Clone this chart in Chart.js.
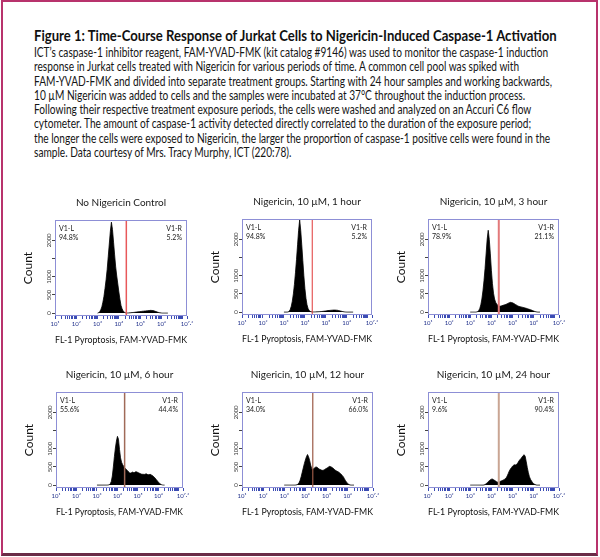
<!DOCTYPE html>
<html>
<head>
<meta charset="utf-8">
<title>Figure 1: Caspase-1 time course</title>
<script src="https://cdn.jsdelivr.net/npm/chart.js"></script>
<style>
  html, body { margin: 0; padding: 0; background: #fff; }
  body { width: 600px; height: 557px; position: relative; overflow: hidden;
         font-family: Lato, "Open Sans", sans-serif; }
  #frame { position: absolute; left: 1px; top: 0px; width: 593px; height: 551px;
           border: 2px solid #b8336c; border-bottom: 3px solid #6b2c47; }
  #title { position: absolute; left: 34px; top: 26px; font-size: 15.5px; font-weight: bold;
           color: #111; white-space: nowrap; line-height: 18px; transform-origin: 0 0; }
  #para { position: absolute; left: 34px; top: 46px; font-size: 12.5px; line-height: 14.3px;
          color: #151515; white-space: nowrap; transform-origin: 0 0; }
  canvas { position: absolute; }
</style>
</head>
<body>
<div id="frame"></div>
<div id="title">Figure 1: Time-Course Response of Jurkat Cells to Nigericin-Induced Caspase-1 Activation</div>
<div id="para">ICT’s caspase-1 inhibitor reagent, FAM-YVAD-FMK (kit catalog #9146) was used to monitor the caspase-1 induction<br>
response in Jurkat cells treated with Nigericin for various periods of time. A common cell pool was spiked with<br>
FAM-YVAD-FMK and divided into separate treatment groups. Starting with 24 hour samples and working backwards,<br>
10 µM Nigericin was added to cells and the samples were incubated at 37°C throughout the induction process.<br>
Following their respective treatment exposure periods, the cells were washed and analyzed on an Accuri C6 flow<br>
cytometer. The amount of caspase-1 activity detected directly correlated to the duration of the exposure period;<br>
the longer the cells were exposed to Nigericin, the larger the proportion of caspase-1 positive cells were found in the<br>
sample. Data courtesy of Mrs. Tracy Murphy, ICT (220:78).</div>

<canvas id="p0" width="179" height="153" style="left:18px;top:195px"></canvas>
<canvas id="p1" width="177" height="153" style="left:205px;top:194px"></canvas>
<canvas id="p2" width="178" height="153" style="left:391px;top:194px"></canvas>
<canvas id="p3" width="174" height="153" style="left:19px;top:367px"></canvas>
<canvas id="p4" width="178" height="153" style="left:205px;top:367px"></canvas>
<canvas id="p5" width="178" height="153" style="left:391px;top:367px"></canvas>

<script>
// histogram bins, log10 of FL-1 intensity
const binLog = [3.00, 3.05, 3.10, 3.15, 3.20, 3.25, 3.30, 3.35, 3.40, 3.45,
                3.50, 3.55, 3.60, 3.65, 3.70, 3.75, 3.80, 3.85, 3.90, 3.95,
                4.00, 4.05, 4.10, 4.15, 4.20, 4.25, 4.30, 4.35, 4.40, 4.45,
                4.50, 4.55, 4.60, 4.65, 4.70, 4.75, 4.80, 4.85, 4.90, 4.95,
                5.00, 5.05, 5.10, 5.15, 5.20, 5.25, 5.30, 5.35, 5.40, 5.45,
                5.50, 5.55, 5.60, 5.65, 5.70, 5.75, 5.80, 5.85, 5.90, 5.95,
                6.00, 6.05, 6.10, 6.15, 6.20, 6.25, 6.30];

// counts per bin
const countsControl = [0, 10, 40, 90, 170, 300, 460, 680, 920, 1200,
                       1550, 1900, 2250, 2500, 2300, 1950, 1600, 1270, 1020, 800,
                       580, 380, 210, 120, 60, 25, 10, 5, 3, 4,
                       6, 9, 13, 15, 19, 22, 27, 30, 34, 36,
                       42, 45, 50, 52, 57, 59, 63, 66, 71, 72,
                       75, 72, 68, 61, 50, 41, 30, 20, 12, 6,
                       3, 0, 0, 0, 0, 0, 0];
const counts1h = [0, 0, 0, 0, 5, 20, 70, 160, 300, 500,
                  760, 1080, 1450, 1850, 2250, 2540, 2250, 1850, 1420, 1000,
                  650, 380, 200, 100, 45, 20, 9, 5, 4, 4,
                  5, 6, 8, 10, 12, 14, 17, 20, 24, 28,
                  32, 36, 41, 44, 47, 50, 52, 55, 56, 55,
                  53, 50, 44, 38, 30, 22, 15, 9, 5, 2,
                  0, 0, 0, 0, 0, 0, 0];
const counts3h = [0, 0, 0, 0, 0, 0, 5, 15, 40, 100,
                  200, 360, 580, 860, 1200, 1600, 2000, 2250, 2000, 1600,
                  1150, 780, 520, 360, 270, 220, 190, 172, 160, 165,
                  175, 185, 195, 205, 215, 230, 245, 258, 268, 262,
                  255, 240, 225, 205, 190, 170, 158, 150, 142, 135,
                  128, 120, 112, 104, 95, 85, 75, 65, 55, 42,
                  30, 18, 10, 4, 0, 0, 0];
const counts6h = [0, 0, 0, 0, 0, 0, 0, 0, 0, 0,
                  0, 3, 10, 35, 100, 250, 500, 780, 1020, 1210,
                  1340, 1260, 980, 750, 630, 565, 520, 480, 450, 420,
                  390, 360, 335, 330, 345, 360, 340, 350, 370, 360,
                  345, 330, 320, 305, 295, 300, 290, 300, 310, 295,
                  285, 290, 295, 280, 265, 240, 215, 185, 150, 115,
                  80, 50, 28, 12, 4, 0, 0];
const counts12h = [0, 0, 0, 0, 0, 0, 0, 0, 0, 0,
                   0, 3, 10, 25, 65, 130, 230, 350, 470, 590,
                   690, 780, 840, 780, 680, 550, 450, 430, 455, 480,
                   500, 490, 465, 440, 430, 415, 405, 410, 425, 445,
                   460, 480, 500, 515, 505, 490, 470, 440, 415, 395,
                   380, 365, 345, 320, 295, 260, 225, 170, 120, 80,
                   45, 20, 6, 0, 0, 0, 0];
const counts24h = [0, 0, 0, 0, 0, 0, 0, 0, 0, 0,
                   0, 0, 0, 3, 15, 35, 65, 95, 120, 145,
                   162, 165, 150, 130, 110, 90, 80, 85, 95, 110,
                   120, 135, 150, 170, 200, 250, 320, 390, 440, 480,
                   520, 545, 560, 555, 570, 610, 660, 700, 730, 770,
                   810, 835, 790, 640, 480, 340, 230, 160, 110, 70,
                   40, 20, 8, 0, 0, 0, 0];

const panelCounts = [countsControl, counts1h, counts3h, counts6h, counts12h, counts24h];
const panelTitles = ['No Nigericin Control', 'Nigericin, 10 µM, 1 hour', 'Nigericin, 10 µM, 3 hour',
                     'Nigericin, 10 µM, 6 hour', 'Nigericin, 10 µM, 12 hour', 'Nigericin, 10 µM, 24 hour'];
const pctLeft = ['94.8%', '94.8%', '78.9%', '55.6%', '34.0%', '9.6%'];
const pctRight = ['5.2%', '5.2%', '21.1%', '44.4%', '66.0%', '90.4%'];
const gateLog = 4.35;

const xTickLog = [1, 2, 3, 4, 5, 6, 7.2];
const xTickLabels = ['10¹', '10²', '10³', '10⁴', '10⁵', '10⁶', '10⁷·²'];
const yTicks = [0, 500, 1000, 1500, 2000];
const yTickLabels = ['0', '500', '1000', '', '2000'];

const Y_MIN = -80, Y_MAX = 2560;

// gate line look per panel
const gateColors = ['#e8585a', '#e03838', '#e2797a', '#a06a58', '#9c5a46', '#c9a593'];
const gateWidths = [1.5, 1, 2, 1.5, 1.2, 2];

Chart.defaults.font.family = 'Lato, "Open Sans", sans-serif';
Chart.defaults.color = '#222';

// minor log ticks for the x axis
const xMinor = [];
for (let n = 1; n <= 6; n++) {
  for (let k = 1; k <= 9; k++) xMinor.push(n + Math.log10(k));
}
xMinor.push(7, 7.2);

const decor = {
  id: 'decor',
  afterDraw(chart) {
    const {ctx, chartArea: a} = chart;
    const i = chart.options.plugins.decor.index;
    ctx.save();
    ctx.strokeStyle = '#8d8fd6';
    ctx.lineWidth = 1;
    ctx.strokeRect(a.left + 0.5, a.top + 0.5, a.right - a.left - 1, a.bottom - a.top - 1);
    ctx.fillStyle = '#1a1a1a';
    ctx.textBaseline = 'middle';
    ctx.textAlign = 'center';
    ctx.font = '10px Lato, "Open Sans", sans-serif';
    ctx.fillText(panelTitles[i], (a.left + a.right) / 2, a.top - 17);
    ctx.font = '7px Lato, "Open Sans", sans-serif';
    ctx.textAlign = 'left';
    ctx.fillText('V1-L', a.left + 4, a.top + 9);
    ctx.fillText(pctLeft[i], a.left + 4, a.top + 18);
    ctx.textAlign = 'right';
    ctx.fillText('V1-R', a.right - 5, a.top + 9);
    ctx.fillText(pctRight[i], a.right - 5, a.top + 18);
    ctx.restore();
  }
};

panelCounts.forEach((counts, i) => {
  new Chart(document.getElementById('p' + i), {
    type: 'line',
    data: {
      datasets: [
        {
          data: [{x: gateLog, y: Y_MIN}, {x: gateLog, y: Y_MAX}],
          borderColor: gateColors[i], borderWidth: gateWidths[i],
          pointRadius: 0, fill: false
        },
        {
          data: binLog.map((x, j) => ({x: x, y: counts[j]})),
          borderColor: '#000', backgroundColor: '#000', borderWidth: 0.8,
          pointRadius: 0, fill: 'origin', tension: 0
        }
      ]
    },
    options: {
      responsive: false,
      animation: false,
      devicePixelRatio: 1,
      layout: {padding: {top: 25, left: 0, right: 10, bottom: 0}},
      plugins: {
        legend: {display: false},
        tooltip: {enabled: false},
        title: {display: false},
        decor: {index: i}
      },
      scales: {
        x: {
          type: 'linear', min: 1, max: 7.2,
          afterFit(s) { s.height = 32; },
          afterBuildTicks(s) { s.ticks = xMinor.map(v => ({value: v})); },
          grid: {drawOnChartArea: false, tickLength: 3, tickColor: '#3b4cb4'},
          border: {display: false},
          ticks: {
            autoSkip: false, maxRotation: 0, minRotation: 0, padding: 1,
            font: {size: 6}, color: '#1f2f8a',
            callback(v) {
              const k = xTickLog.findIndex(t => Math.abs(t - v) < 1e-6);
              return k >= 0 ? xTickLabels[k] : '';
            }
          },
          title: {display: true, text: 'FL-1 Pyroptosis, FAM-YVAD-FMK',
                  font: {size: 10}, color: '#111', padding: {top: 0, bottom: 2}}
        },
        y: {
          min: Y_MIN, max: Y_MAX,
          afterFit(s) { s.width = 37; },
          afterBuildTicks(s) { s.ticks = yTicks.map(v => ({value: v})); },
          grid: {drawOnChartArea: false, tickLength: 3, tickColor: '#444'},
          border: {display: false},
          ticks: {
            autoSkip: false, minRotation: 90, maxRotation: 90, crossAlign: 'center',
            padding: -4, font: {size: 6}, color: '#333',
            callback(v) {
              const k = yTicks.indexOf(v);
              return k >= 0 ? yTickLabels[k] : '';
            }
          },
          title: {display: true, text: 'Count', font: {size: 12}, color: '#111',
                  padding: {top: 3, bottom: 0}}
        }
      }
    },
    plugins: [decor]
  });
});

// squeeze the heading text to the width it has in the figure
function fitWidth(id, target) {
  const el = document.getElementById(id);
  const w = el.offsetWidth;
  if (w > 0) el.style.transform = 'scaleX(' + (target / w) + ')';
}
fitWidth('title', 523);
fitWidth('para', 518);
</script>
</body>
</html>
